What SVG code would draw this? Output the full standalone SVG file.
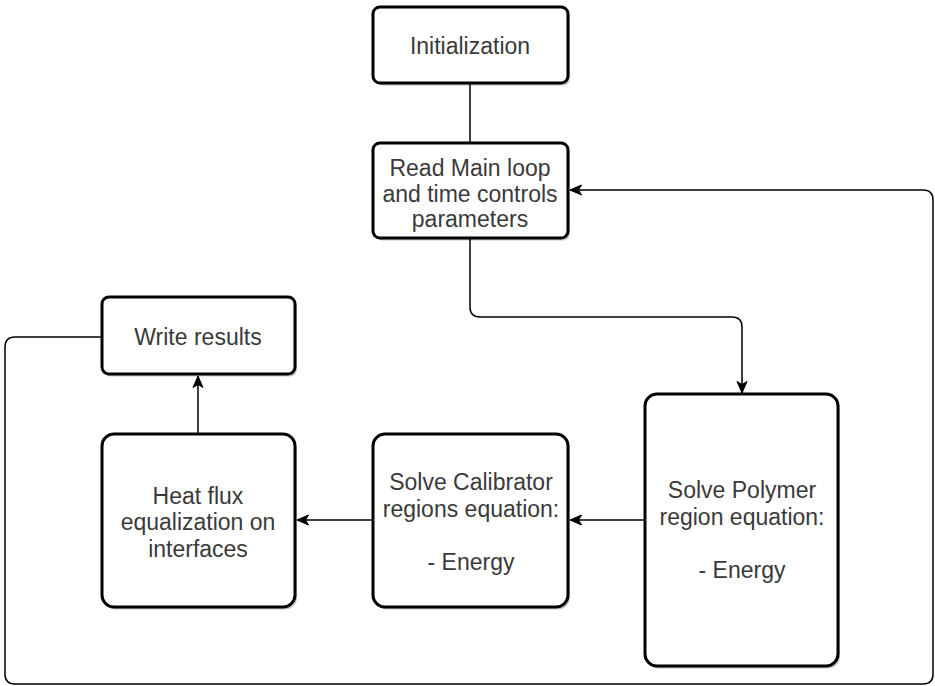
<svg xmlns="http://www.w3.org/2000/svg" width="935" height="686" viewBox="0 0 935 686">
<style>
.box{fill:#fff;stroke:#000;stroke-width:3}
.shadow{fill:#000;opacity:0.22}
.lbl{font-family:"Liberation Sans",Arial,sans-serif;font-size:23px;fill:#3a3a3a;text-anchor:middle}
.conn{fill:none;stroke:#000;stroke-width:1.5}
</style>
<defs>
<marker id="arr" markerUnits="userSpaceOnUse" markerWidth="14" markerHeight="14" viewBox="0 0 14 14" refX="12" refY="7" orient="auto">
<path d="M0.5,2 L12,7 L0.5,12 L3.5,7 Z" fill="#000" stroke="#000" stroke-width="1"/>
</marker>
</defs>
<rect width="935" height="686" fill="#fff"/>
<g id="connectors">
<path class="conn" d="M470,84 V143"/>
<path class="conn" d="M470,238 V307 Q470,317 480,317 H732 Q742,317 742,327 V393" marker-end="url(#arr)"/>
<path class="conn" d="M645,520 H570" marker-end="url(#arr)"/>
<path class="conn" d="M373,520 H297" marker-end="url(#arr)"/>
<path class="conn" d="M198,434 V376" marker-end="url(#arr)"/>
<path class="conn" d="M102,337 H15 Q5,337 5,347 V674 Q5,684 15,684 H923 Q933,684 933,674 V200 Q933,190 923,190 H570" marker-end="url(#arr)"/>
</g>
<g id="initialization">
<rect class="shadow" x="375" y="9.5" width="195" height="76" rx="7"/>
<rect class="box" x="373" y="7" width="195" height="76" rx="7"/>
<text class="lbl" x="470" y="54">Initialization</text>
</g>
<g id="read-params">
<rect class="shadow" x="375" y="145.5" width="195" height="95" rx="7"/>
<rect class="box" x="373" y="143" width="195" height="95" rx="7"/>
<text class="lbl" x="470" y="175.5">Read Main loop</text>
<text class="lbl" x="470" y="201.5">and time controls</text>
<text class="lbl" x="470" y="227">parameters</text>
</g>
<g id="write-results">
<rect class="shadow" x="104" y="299.5" width="193" height="77" rx="7"/>
<rect class="box" x="102" y="297" width="193" height="77" rx="7"/>
<text class="lbl" x="198" y="345">Write results</text>
</g>
<g id="heat-flux">
<rect class="shadow" x="104" y="436.5" width="193" height="173" rx="12"/>
<rect class="box" x="102" y="434" width="193" height="173" rx="12"/>
<text class="lbl" x="198" y="503.5">Heat flux</text>
<text class="lbl" x="198" y="530">equalization on</text>
<text class="lbl" x="198" y="556.5">interfaces</text>
</g>
<g id="calibrator">
<rect class="shadow" x="375" y="436.5" width="195" height="173" rx="12"/>
<rect class="box" x="373" y="434" width="195" height="173" rx="12"/>
<text class="lbl" x="471" y="490">Solve Calibrator</text>
<text class="lbl" x="471" y="516.5">regions equation:</text>
<text class="lbl" x="471" y="570">- Energy</text>
</g>
<g id="polymer">
<rect class="shadow" x="647" y="396.5" width="193" height="272" rx="12"/>
<rect class="box" x="645" y="394" width="193" height="272" rx="12"/>
<text class="lbl" x="742" y="498">Solve Polymer</text>
<text class="lbl" x="742" y="524.5">region equation:</text>
<text class="lbl" x="742" y="577.5">- Energy</text>
</g>
</svg>
